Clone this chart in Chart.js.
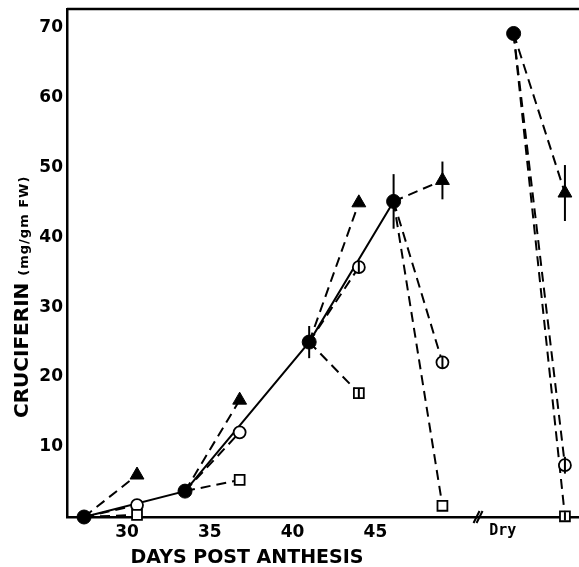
<!DOCTYPE html>
<html>
<head>
<meta charset="utf-8">
<script src="https://cdn.jsdelivr.net/npm/chart.js@4.4.0/dist/chart.umd.min.js"></script>
<style>
  html, body { margin: 0; padding: 0; background: #fff; }
  #wrap { width: 579px; height: 567px; }
</style>
</head>
<body>
<div id="wrap"><canvas id="cruciferinChart"></canvas></div>
<script>
// developing seeds (filled circles), last one is the dry seed
const devDays = [27.4, 33.5, 41.0, 46.1, 53.35];
const devValues = [0, 3.7, 25.0, 45.1, 69.1];
const devErr = [0, 0.5, 2.3, 3.9, 0];
// samples taken 3 days later (triangles, open circles, squares)
const sampleDays = [30.6, 36.8, 44.0, 49.05, 56.45];
const triValues = [6.0, 16.7, 44.9, 48.1, 46.3];
const triErr = [0, 0, 0, 2.7, 4.0];
const openValues = [1.7, 12.1, 35.7, 22.1, 7.4];
const openErr = [0, 0, 0.9, 0.9, 1.2];
const squareValues = [0.3, 5.3, 17.7, 1.6, 0.1];
const squareErr = [0, 0, 0.7, 0, 0.6];

const xTicks = [30, 35, 40, 45];
const dryTick = 52.7;
const dryLabel = 'Dry';
const breakAt = 51.2;
const yTicks = [10, 20, 30, 40, 50, 60, 70];

const pts = (xs, ys) => xs.map((x, i) => ({ x: x, y: ys[i] }));

const datasets = [];

// dashed branch lines from each filled point to its three samples
[triValues, openValues, squareValues].forEach(vals => {
    devDays.forEach((d, i) => {
        datasets.push({
            data: [{ x: d, y: devValues[i] }, { x: sampleDays[i], y: vals[i] }],
            showLine: true,
            borderColor: '#000',
            borderWidth: 2,
            borderDash: [10, 6],
            pointRadius: 0,
            clip: false,
            order: 3
        });
    });
});

// solid line through developing seeds (not to dry)
datasets.push({
    data: pts(devDays.slice(0, 4), devValues.slice(0, 4)),
    showLine: true,
    borderColor: '#000',
    borderWidth: 2,
    pointRadius: 0,
    clip: false,
    order: 2
});

datasets.push({
    data: pts(sampleDays, squareValues),
    pointStyle: 'rect',
    pointRadius: 7,
    pointBackgroundColor: '#fff',
    pointBorderColor: '#000',
    pointBorderWidth: 1.8,
    clip: false,
    order: 1
});
datasets.push({
    data: pts(sampleDays, openValues),
    pointStyle: 'circle',
    pointRadius: 6,
    pointBackgroundColor: '#fff',
    pointBorderColor: '#000',
    pointBorderWidth: 1.8,
    clip: false,
    order: 1
});
datasets.push({
    data: pts(sampleDays, triValues),
    pointStyle: 'triangle',
    pointRadius: 8,
    pointBackgroundColor: '#000',
    pointBorderColor: '#000',
    pointBorderWidth: 1,
    clip: false,
    order: 0
});
datasets.push({
    data: pts(devDays, devValues),
    pointStyle: 'circle',
    pointRadius: 7,
    pointBackgroundColor: '#000',
    pointBorderColor: '#000',
    pointBorderWidth: 1,
    clip: false,
    order: 0
});

const extras = {
    id: 'extras',
    afterDatasetsDraw(chart) {
        const { ctx, chartArea } = chart;
        const x = chart.scales.x, y = chart.scales.y;
        ctx.save();
        ctx.strokeStyle = '#000';
        ctx.lineWidth = 2;

        // error bars
        const groups = [
            [devDays, devValues, devErr],
            [sampleDays, triValues, triErr],
            [sampleDays, openValues, openErr],
            [sampleDays, squareValues, squareErr]
        ];
        groups.forEach(([xs, ys, es]) => {
            xs.forEach((d, i) => {
                if (!es[i]) return;
                const px = x.getPixelForValue(d);
                ctx.beginPath();
                ctx.moveTo(px, y.getPixelForValue(ys[i] - es[i]));
                ctx.lineTo(px, y.getPixelForValue(ys[i] + es[i]));
                ctx.stroke();
            });
        });

        // top frame line
        ctx.lineWidth = 2.5;
        ctx.beginPath();
        ctx.moveTo(chartArea.left, chartArea.top);
        ctx.lineTo(chartArea.right, chartArea.top);
        ctx.stroke();

        // axis break marks
        const bx = x.getPixelForValue(breakAt);
        const by = chartArea.bottom;
        ctx.lineWidth = 2;
        [-1.5, 1.5].forEach(off => {
            ctx.beginPath();
            ctx.moveTo(bx + off - 3, by + 6);
            ctx.lineTo(bx + off + 3, by - 6);
            ctx.stroke();
        });
        ctx.restore();
    },
    afterDraw(chart) {
        const { ctx, chartArea } = chart;
        ctx.save();
        ctx.fillStyle = '#000';

        // x title
        ctx.font = 'bold 19px "DejaVu Sans"';
        ctx.textAlign = 'center';
        ctx.textBaseline = 'alphabetic';
        ctx.fillText('DAYS POST ANTHESIS', chartArea.left + 180, 563);

        // y title, two sizes
        ctx.translate(28, 418);
        ctx.rotate(-Math.PI / 2);
        ctx.textAlign = 'left';
        ctx.font = 'bold 20px "DejaVu Sans"';
        ctx.fillText('CRUCIFERIN', 0, 0);
        const w = ctx.measureText('CRUCIFERIN ').width;
        ctx.font = 'bold 13px "DejaVu Sans"';
        ctx.letterSpacing = '1px';
        ctx.fillText('(mg/gm FW)', w, 0);
        ctx.restore();
    }
};

const ctx = document.getElementById('cruciferinChart').getContext('2d');
const chart = new Chart(ctx, {
    type: 'scatter',
    data: { datasets: datasets },
    options: {
        responsive: true,
        maintainAspectRatio: false,
        animation: false,
        layout: { autoPadding: false, padding: { top: 9, right: 0, left: 0, bottom: 0 } },
        plugins: {
            legend: { display: false },
            tooltip: { enabled: false }
        },
        scales: {
            x: {
                type: 'linear',
                min: 26.37,
                max: 57.3,
                grid: { display: false, drawTicks: false },
                border: { display: true, color: '#000', width: 2.5 },
                afterBuildTicks: s => { s.ticks = xTicks.concat([dryTick]).map(v => ({ value: v })); },
                afterFit: s => { s.height = 50; s.paddingLeft = 0; s.paddingRight = 0; },
                ticks: {
                    padding: 5,
                    color: '#000',
                    autoSkip: false,
                    maxRotation: 0,
                    font: c => (c.tick && c.tick.value === dryTick)
                        ? { family: '"DejaVu Sans Mono"', size: 15, weight: 'bold' }
                        : { family: '"DejaVu Sans"', size: 17, weight: 'bold' },
                    callback: v => v === dryTick ? dryLabel : String(v)
                }
            },
            y: {
                min: 0,
                max: 72.6,
                grid: { display: false, drawTicks: false },
                border: { display: true, color: '#000', width: 2.5 },
                afterBuildTicks: s => { s.ticks = yTicks.map(v => ({ value: v })); },
                afterFit: s => { s.width = 67; s.paddingTop = 0; s.paddingBottom = 0; },
                ticks: {
                    padding: 4,
                    color: '#000',
                    font: { family: '"DejaVu Sans"', size: 17, weight: 'bold' }
                }
            }
        }
    },
    plugins: [extras]
});
</script>
</body>
</html>
